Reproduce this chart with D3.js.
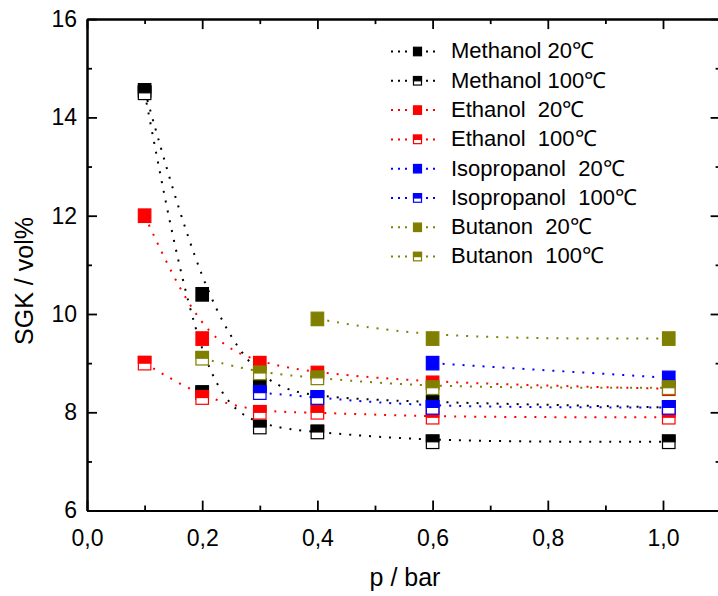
<!DOCTYPE html>
<html>
<head>
<meta charset="utf-8">
<script src="https://cdn.jsdelivr.net/npm/d3@7"></script>
<style>
  html, body { margin: 0; padding: 0; background: #fff; }
  svg { display: block; font-family: "Liberation Sans", Arial, Helvetica, sans-serif; }
  text { white-space: pre; }
</style>
</head>
<body>
<svg id="chart" width="718" height="596"></svg>
<script>
// Pressure steps (bar)
const pressures = [0.1, 0.2, 0.3, 0.4, 0.6, 1.01];

// Lower explosion limit (SGK, vol%) per solvent and temperature; null = not measured
const methanol20     = [14.55, 10.4, 8.55, 8.3, 8.2, 8.1];
const methanol100    = [14.5, 8.4, 7.7, 7.6, 7.4, 7.4];
const ethanol20      = [12.0, 9.5, 9.0, 8.8, 8.6, 8.48];
const ethanol100     = [9.0, 8.3, 8.0, 8.0, 7.9, 7.9];
const isopropanol20  = [null, null, null, null, 9.0, 8.7];
const isopropanol100 = [null, null, 8.4, 8.3, 8.1, 8.1];
const butanon20      = [null, null, null, 9.9, 9.5, 9.5];
const butanon100     = [null, 9.1, 8.8, 8.7, 8.5, 8.5];

const seriesNames = ["Methanol 20℃", "Methanol 100℃", "Ethanol  20℃", "Ethanol  100℃",
                     "Isopropanol  20℃", "Isopropanol  100℃", "Butanon  20℃", "Butanon  100℃"];
const seriesColors = ["#000000", "#000000", "#ff0000", "#ff0000",
                      "#0000ff", "#0000ff", "#808000", "#808000"];
const seriesHalf = [false, true, false, true, false, true, false, true];
const seriesValues = [methanol20, methanol100, ethanol20, ethanol100,
                      isopropanol20, isopropanol100, butanon20, butanon100];

const xTicks = [0, 0.2, 0.4, 0.6, 0.8, 1.0];
const xMinor = [0.1, 0.3, 0.5, 0.7, 0.9, 1.1];
const yTicks = [6, 8, 10, 12, 14, 16];
const yMinor = [7, 9, 11, 13, 15];

const svg = d3.select("#chart");
const x = d3.scaleLinear().domain([0, 1.1]).range([87, 720.6]);
const y = d3.scaleLinear().domain([6, 16]).range([510.6, 19.1]);

const fmtX = v => d3.format(".1f")(v).replace(".", ",");
const axisG = svg.append("g");

function styleAxis(g) {
  g.selectAll("path.domain").attr("stroke", "#000").attr("stroke-width", 2);
  g.selectAll(".tick line").attr("stroke", "#000").attr("stroke-width", 1.8);
  g.selectAll(".tick text").attr("fill", "#000").attr("font-size", 23)
    .attr("font-family", "'Liberation Sans', Arial, sans-serif");
}

// bottom axis
const gb = axisG.append("g").attr("transform", `translate(0,${y(6)})`)
  .call(d3.axisBottom(x).tickValues(xTicks).tickFormat(fmtX).tickSizeInner(-10).tickSizeOuter(0).tickPadding(19));
styleAxis(gb);
const gbm = axisG.append("g").attr("transform", `translate(0,${y(6)})`)
  .call(d3.axisBottom(x).tickValues(xMinor).tickFormat("").tickSizeInner(-5).tickSizeOuter(0));
styleAxis(gbm);

// top axis
const gt = axisG.append("g").attr("transform", `translate(0,${y(16)})`)
  .call(d3.axisTop(x).tickValues(xTicks).tickFormat("").tickSizeInner(-10).tickSizeOuter(0));
styleAxis(gt);
const gtm = axisG.append("g").attr("transform", `translate(0,${y(16)})`)
  .call(d3.axisTop(x).tickValues(xMinor).tickFormat("").tickSizeInner(-5).tickSizeOuter(0));
styleAxis(gtm);

// left axis
const gl = axisG.append("g").attr("transform", `translate(${x(0)},0)`)
  .call(d3.axisLeft(y).tickValues(yTicks).tickFormat(d3.format("d")).tickSizeInner(-10).tickSizeOuter(0).tickPadding(10));
styleAxis(gl);
const glm = axisG.append("g").attr("transform", `translate(${x(0)},0)`)
  .call(d3.axisLeft(y).tickValues(yMinor).tickFormat("").tickSizeInner(-5).tickSizeOuter(0));
styleAxis(glm);

// right axis
const gr = axisG.append("g").attr("transform", `translate(${x(1.1)},0)`)
  .call(d3.axisRight(y).tickValues(yTicks).tickFormat("").tickSizeInner(-10).tickSizeOuter(0));
styleAxis(gr);
const grm = axisG.append("g").attr("transform", `translate(${x(1.1)},0)`)
  .call(d3.axisRight(y).tickValues(yMinor).tickFormat("").tickSizeInner(-5).tickSizeOuter(0));
styleAxis(grm);

// axis titles
svg.append("text").attr("x", 405).attr("y", 586).attr("text-anchor", "middle")
  .attr("font-size", 25).attr("fill", "#000").text("p / bar");
svg.append("text").attr("transform", "translate(33,281) rotate(-90)").attr("text-anchor", "middle")
  .attr("font-size", 25).attr("fill", "#000").text("SGK / vol%");

// smoothed dotted connecting lines
const line = d3.line()
  .defined(d => d[1] !== null)
  .x(d => x(d[0])).y(d => y(d[1]))
  .curve(d3.curveBasis);

const lineG = svg.append("g");
seriesValues.forEach((vals, i) => {
  const pts = pressures.map((p, j) => [p, vals[j]]).filter(d => d[1] !== null);
  lineG.append("path").datum(pts)
    .attr("d", line)
    .attr("fill", "none")
    .attr("stroke", seriesColors[i])
    .attr("stroke-width", 2)
    .attr("stroke-dasharray", "2,8");
});

// square markers: filled for 20 °C, top-half filled for 100 °C
function drawMarker(g, cx, cy, w, h, color, half) {
  if (half) {
    g.append("rect").attr("x", cx - w / 2).attr("y", cy - h / 2).attr("width", w).attr("height", h)
      .attr("fill", "#fff").attr("stroke", color).attr("stroke-width", 1.2);
    g.append("rect").attr("x", cx - w / 2).attr("y", cy - h / 2).attr("width", w).attr("height", h * 0.5)
      .attr("fill", color).attr("stroke", color).attr("stroke-width", 1.2);
  } else {
    g.append("rect").attr("x", cx - w / 2).attr("y", cy - h / 2).attr("width", w).attr("height", h)
      .attr("fill", color).attr("stroke", color).attr("stroke-width", 1.2);
  }
}

const markG = svg.append("g");
seriesValues.forEach((vals, i) => {
  const g = markG.append("g");
  pressures.forEach((p, j) => {
    if (vals[j] === null) return;
    drawMarker(g, x(p), y(vals[j]), 12.5, 13.5, seriesColors[i], seriesHalf[i]);
  });
});

// legend
const legG = svg.append("g");
seriesNames.forEach((name, i) => {
  const base = 58.3 + i * 29.3;
  const cy = base - 6.8;
  const row = legG.append("g");
  row.append("line").attr("x1", 391).attr("x2", 411).attr("y1", cy).attr("y2", cy)
    .attr("stroke", seriesColors[i]).attr("stroke-width", 2).attr("stroke-dasharray", "2,5");
  row.append("line").attr("x1", 424).attr("x2", 440).attr("y1", cy).attr("y2", cy)
    .attr("stroke", seriesColors[i]).attr("stroke-width", 2).attr("stroke-dasharray", "2,5")
    .attr("stroke-dashoffset", -2);
  drawMarker(row, 417.5, cy, 8, 8.5, seriesColors[i], seriesHalf[i]);
  row.append("text").attr("x", 451).attr("y", base).attr("font-size", 22).attr("fill", "#000")
    .text(name);
});
</script>
</body>
</html>
